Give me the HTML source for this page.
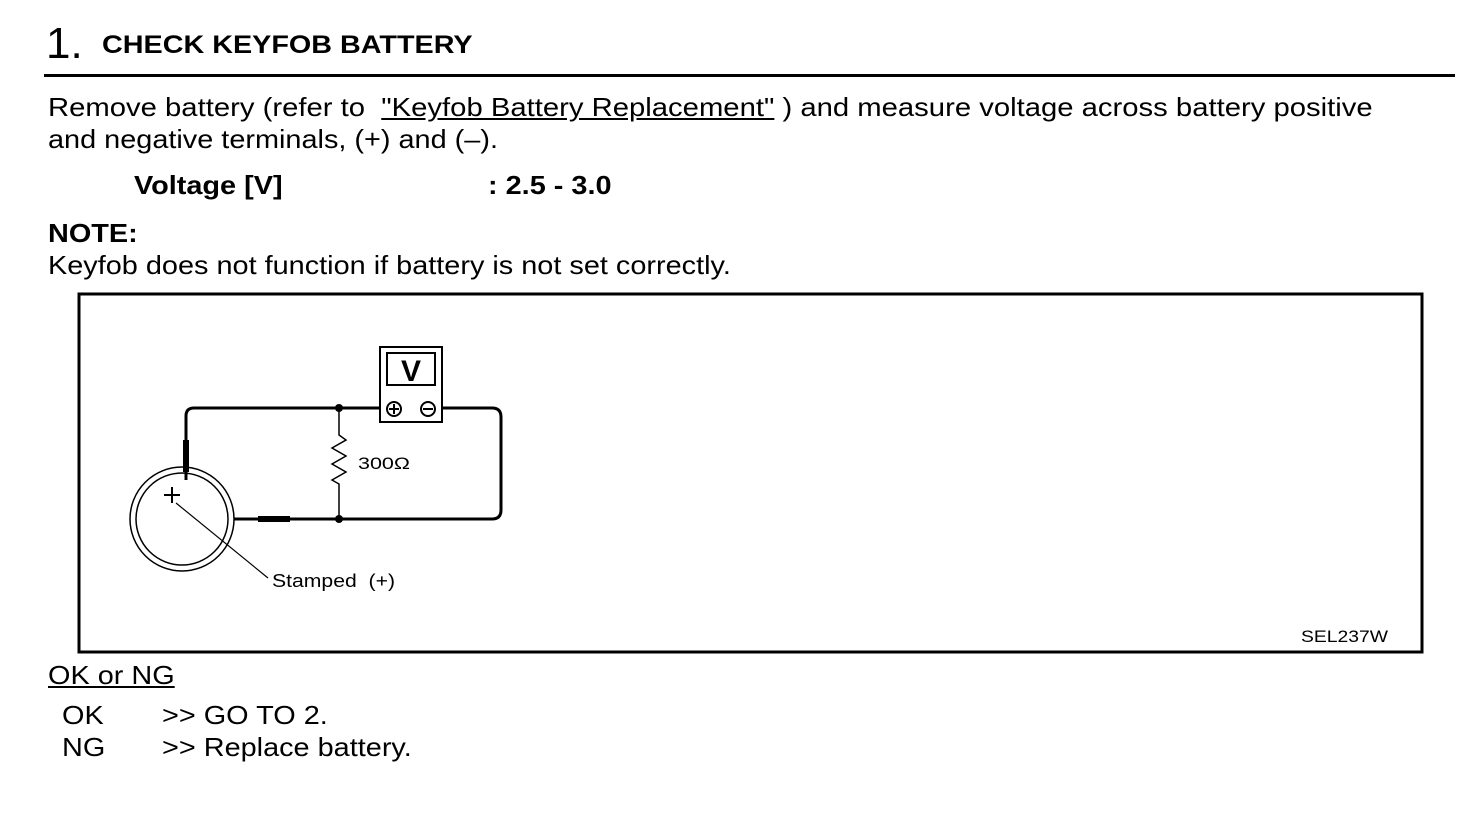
<!DOCTYPE html>
<html><head><meta charset="utf-8"><style>
body{margin:0;width:1472px;height:826px;background:#fff;position:relative;font-family:"Liberation Sans",Arial,sans-serif;color:#000;overflow:hidden}
.t{position:absolute;white-space:nowrap;line-height:1;transform-origin:0 0;transform:scaleX(1.11)}
</style></head><body>
<div class="t" style="left:46px;top:22px;font-size:44px;transform:none">1.</div>
<div class="t" style="left:102px;top:33px;font-size:25px;font-weight:bold;transform:scaleX(1.15)">CHECK KEYFOB BATTERY</div>
<div style="position:absolute;left:44px;top:74px;width:1411px;height:3px;background:#000"></div>
<div class="t" style="left:48px;top:94px;font-size:26px;transform:scaleX(1.125)">Remove battery (refer to &nbsp;<u>"Keyfob Battery Replacement"</u> ) and measure voltage across battery positive</div>
<div class="t" style="left:48px;top:126px;font-size:26px">and negative terminals, (+) and (–).</div>
<div class="t" style="left:134px;top:172px;font-size:26px;font-weight:bold">Voltage [V]</div>
<div class="t" style="left:488px;top:172px;font-size:26px;font-weight:bold">: 2.5 - 3.0</div>
<div class="t" style="left:48px;top:220px;font-size:26px;font-weight:bold">NOTE:</div>
<div class="t" style="left:48px;top:252px;font-size:26px">Keyfob does not function if battery is not set correctly.</div>
<svg style="position:absolute;left:0;top:0" width="1472" height="826">
<rect x="79" y="294" width="1343" height="358" fill="none" stroke="#000" stroke-width="3"/>
<g fill="none" stroke="#000">
<circle cx="182" cy="519" r="52" stroke-width="1.5"/>
<circle cx="182" cy="519" r="46" stroke-width="1.5"/>
<path d="M186 480 V416 Q186 408 194 408 H380 M443 408 H492 Q501 408 501 417 V510 Q501 519 492 519 H234" stroke-width="3"/>
<path d="M186 440 V472" stroke-width="6"/>
<path d="M258 519 H290" stroke-width="6"/>
<path d="M339 408 V435 L346 440 L332 448 L346 456 L332 464 L346 472 L332 480 L339 484 V519" stroke-width="1.5"/>
<path d="M176 503 L268 578" stroke-width="1.2"/>
<path d="M164 495 H180 M172 487 V503" stroke-width="2"/>
<rect x="380" y="347" width="62" height="75" stroke-width="2"/>
<rect x="387" y="353" width="48" height="32" stroke-width="2"/>
<circle cx="394" cy="409" r="7" stroke-width="2"/>
<circle cx="428" cy="409" r="7" stroke-width="2"/>
<path d="M389 409 H399 M394 404 V414 M423 409 H433" stroke-width="2"/>
</g>
<circle cx="339" cy="408" r="4"/><circle cx="339" cy="519" r="4"/>
<text x="411" y="381" font-family="Liberation Sans" font-weight="bold" font-size="30" text-anchor="middle">V</text>
<text x="358" y="469" font-family="Liberation Sans" font-size="17" textLength="52" lengthAdjust="spacingAndGlyphs">300Ω</text>
<text x="272" y="587" font-family="Liberation Sans" font-size="18" textLength="123" lengthAdjust="spacingAndGlyphs" xml:space="preserve">Stamped  (+)</text>
<text x="1301" y="642" font-family="Liberation Sans" font-size="17" textLength="87" lengthAdjust="spacingAndGlyphs">SEL237W</text>
</svg>
<div class="t" style="left:48px;top:662px;font-size:26px"><u>OK or NG</u></div>
<div class="t" style="left:62px;top:702px;font-size:26px">OK</div>
<div class="t" style="left:162px;top:702px;font-size:26px">&gt;&gt; GO TO 2.</div>
<div class="t" style="left:62px;top:734px;font-size:26px">NG</div>
<div class="t" style="left:162px;top:734px;font-size:26px">&gt;&gt; Replace battery.</div>
</body></html>
